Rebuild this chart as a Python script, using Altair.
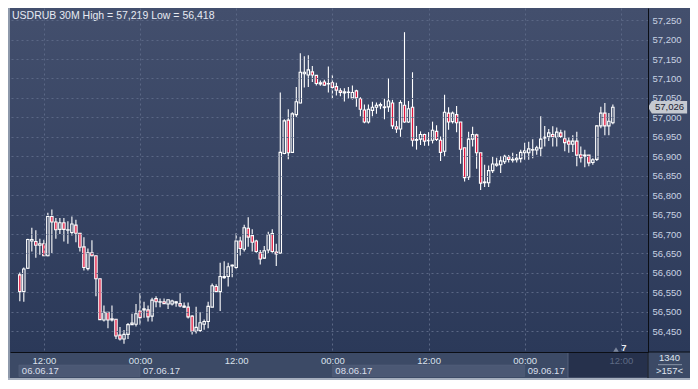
import altair as alt
import pandas as pd

# ---------------- data (USDRUB, 30-minute candles) ----------------
opens = [56.595, 56.552, 56.612, 56.682, 56.681, 56.671, 56.675, 56.644, 56.745, 56.731,
         56.712, 56.729, 56.710, 56.704, 56.723, 56.702, 56.667, 56.611, 56.652, 56.644,
         56.585, 56.479, 56.499, 56.482, 56.481, 56.440, 56.430, 56.442, 56.467, 56.468,
         56.502, 56.505, 56.505, 56.489, 56.534, 56.525, 56.526, 56.520, 56.520, 56.523,
         56.521, 56.515, 56.512, 56.489, 56.450, 56.452, 56.468, 56.475, 56.512, 56.565,
         56.552, 56.588, 56.591, 56.618, 56.614, 56.682, 56.661, 56.715, 56.696, 56.682,
         56.652, 56.638, 56.659, 56.701, 56.654, 56.651, 56.907, 56.993, 56.910, 57.007,
         57.037, 57.112, 57.109, 57.117, 57.108, 57.086, 57.091, 57.086, 57.089, 57.079,
         57.068, 57.063, 57.065, 57.050, 57.068, 57.048, 57.019, 56.988, 57.018, 57.026,
         57.030, 57.027, 57.027, 57.037, 56.976, 56.970, 57.031, 56.988, 57.026, 56.941,
         56.944, 56.956, 56.941, 56.941, 56.964, 56.941, 56.913, 57.011, 56.989, 57.007,
         56.988, 56.922, 56.847, 56.944, 56.955, 56.909, 56.834, 56.832, 56.863, 56.877,
         56.878, 56.886, 56.898, 56.890, 56.891, 56.894, 56.909, 56.909, 56.916, 56.916,
         56.921, 56.947, 56.950, 56.956, 56.949, 56.960, 56.945, 56.939, 56.931, 56.939,
         56.904, 56.900, 56.903, 56.884, 56.892, 56.978, 57.011, 56.978, 56.986]
highs = [56.601, 56.614, 56.688, 56.716, 56.710, 56.688, 56.685, 56.755, 56.763, 56.741,
         56.741, 56.741, 56.733, 56.745, 56.737, 56.702, 56.692, 56.663, 56.684, 56.644,
         56.585, 56.516, 56.499, 56.516, 56.481, 56.461, 56.453, 56.471, 56.495, 56.520,
         56.548, 56.526, 56.516, 56.536, 56.540, 56.534, 56.534, 56.531, 56.531, 56.528,
         56.548, 56.524, 56.524, 56.491, 56.513, 56.499, 56.480, 56.526, 56.573, 56.571,
         56.626, 56.630, 56.626, 56.622, 56.702, 56.693, 56.724, 56.743, 56.712, 56.685,
         56.659, 56.669, 56.706, 56.712, 56.675, 57.064, 56.995, 57.021, 57.013, 57.078,
         57.165, 57.157, 57.160, 57.132, 57.109, 57.095, 57.097, 57.131, 57.109, 57.089,
         57.075, 57.075, 57.078, 57.082, 57.071, 57.052, 57.033, 57.033, 57.040, 57.038,
         57.038, 57.048, 57.101, 57.045, 56.991, 57.044, 57.219, 57.042, 57.116, 56.978,
         56.964, 56.958, 56.962, 56.989, 56.980, 56.951, 57.058, 57.026, 57.015, 57.029,
         56.988, 56.922, 56.963, 56.976, 56.958, 56.909, 56.878, 56.876, 56.898, 56.896,
         56.900, 56.904, 56.903, 56.909, 56.906, 56.917, 56.935, 56.937, 56.944, 56.927,
         57.003, 56.978, 56.970, 56.977, 56.974, 56.968, 56.966, 56.949, 56.954, 56.963,
         56.925, 56.917, 56.903, 56.895, 56.980, 57.027, 57.037, 57.011, 57.033]
lows = [56.527, 56.526, 56.610, 56.655, 56.639, 56.647, 56.644, 56.643, 56.651, 56.688,
        56.700, 56.681, 56.675, 56.696, 56.679, 56.655, 56.606, 56.606, 56.643, 56.540,
        56.479, 56.475, 56.458, 56.475, 56.430, 56.426, 56.418, 56.430, 56.467, 56.462,
        56.467, 56.485, 56.475, 56.475, 56.512, 56.512, 56.520, 56.507, 56.516, 56.513,
        56.512, 56.510, 56.483, 56.442, 56.444, 56.448, 56.454, 56.458, 56.512, 56.551,
        56.502, 56.585, 56.565, 56.589, 56.610, 56.645, 56.655, 56.667, 56.655, 56.652,
        56.622, 56.636, 56.651, 56.652, 56.618, 56.651, 56.905, 56.892, 56.909, 57.001,
        57.036, 57.077, 57.078, 57.091, 57.082, 57.081, 57.081, 57.064, 57.048, 57.056,
        57.054, 57.041, 57.048, 57.046, 57.027, 57.003, 56.985, 56.984, 57.003, 57.009,
        57.021, 56.995, 57.014, 56.970, 56.960, 56.950, 56.986, 56.986, 56.925, 56.917,
        56.929, 56.927, 56.927, 56.933, 56.939, 56.888, 56.900, 56.968, 56.984, 56.962,
        56.881, 56.835, 56.839, 56.925, 56.868, 56.813, 56.821, 56.821, 56.857, 56.873,
        56.857, 56.880, 56.884, 56.884, 56.884, 56.884, 56.891, 56.891, 56.895, 56.904,
        56.900, 56.925, 56.939, 56.925, 56.925, 56.947, 56.913, 56.909, 56.911, 56.874,
        56.884, 56.872, 56.874, 56.878, 56.888, 56.972, 56.954, 56.954, 56.982]
closes = [56.552, 56.610, 56.686, 56.686, 56.671, 56.675, 56.644, 56.745, 56.731, 56.711,
          56.729, 56.712, 56.711, 56.726, 56.702, 56.666, 56.614, 56.652, 56.644, 56.585,
          56.480, 56.499, 56.479, 56.479, 56.438, 56.430, 56.442, 56.467, 56.471, 56.495,
          56.485, 56.508, 56.487, 56.530, 56.526, 56.526, 56.521, 56.531, 56.528, 56.526,
          56.515, 56.512, 56.487, 56.450, 56.460, 56.472, 56.475, 56.514, 56.567, 56.552,
          56.591, 56.591, 56.616, 56.620, 56.682, 56.663, 56.716, 56.692, 56.679, 56.655,
          56.636, 56.657, 56.698, 56.655, 56.649, 56.910, 56.991, 56.909, 57.009, 57.040,
          57.116, 57.116, 57.122, 57.109, 57.087, 57.089, 57.083, 57.087, 57.077, 57.070,
          57.064, 57.066, 57.064, 57.064, 57.050, 57.021, 56.988, 57.021, 57.026, 57.031,
          57.033, 57.025, 57.042, 56.978, 56.970, 57.038, 56.988, 57.022, 56.941, 56.943,
          56.956, 56.939, 56.940, 56.967, 56.943, 56.910, 57.013, 56.988, 57.011, 56.986,
          56.918, 56.845, 56.944, 56.956, 56.909, 56.831, 56.832, 56.863, 56.880, 56.880,
          56.888, 56.900, 56.892, 56.892, 56.895, 56.910, 56.914, 56.919, 56.917, 56.922,
          56.944, 56.949, 56.960, 56.950, 56.962, 56.951, 56.935, 56.931, 56.939, 56.903,
          56.896, 56.903, 56.883, 56.891, 56.978, 57.011, 56.978, 56.990, 57.026]
first_bar = "2017-06-06 09:00"

y_ticks = [56.45, 56.50, 56.55, 56.60, 56.65, 56.70, 56.75, 56.80, 56.85,
           56.90, 56.95, 57.00, 57.05, 57.10, 57.15, 57.20, 57.25]
x_tick_times = ["2017-06-06 12:00", "2017-06-07 00:00", "2017-06-07 12:00", "2017-06-08 00:00",
                "2017-06-08 12:00", "2017-06-09 00:00", "2017-06-09 12:00"]
day_labels = ["06.06.17", "07.06.17", "08.06.17", "09.06.17"]
day_label_at = ["2017-06-06 08:53", "2017-06-07 00:00", "2017-06-08 00:00", "2017-06-09 00:00"]
box_start = ["2017-06-06 08:53", "2017-06-08 00:00"]
box_end = ["2017-06-07 00:00", "2017-06-09 00:00"]
future_start = "2017-06-09 05:24"
x_range = ["2017-06-06 08:24:00", "2017-06-09 14:45:36"]
y_range = [56.3967, 57.2812]
symbol = "USDRUB 30M"
bars_back = "1340"
bars_shown = ">157<"
marker_label = "7"

# ---------------- helpers ----------------
def iso(s):
    return pd.Timestamp(s).strftime("%Y-%m-%dT%H:%M:%S")

def dt(s):
    t = pd.Timestamp(s)
    return alt.DateTime(year=t.year, month=t.month, date=t.day,
                        hours=t.hour, minutes=t.minute, seconds=t.second)

def fmt(v):
    return f"{v:.3f}".replace(".", ",")

W, H = 638, 344
FONT = "Liberation Sans"
RED = "#e1143c"
GRID = "#5a6785"

times = pd.date_range(first_bar, periods=len(opens), freq="30min")
df = pd.DataFrame({
    "time": times.strftime("%Y-%m-%dT%H:%M:%S"),
    "open": opens, "high": highs, "low": lows, "close": closes,
})

xscale = alt.Scale(domain=[dt(x_range[0]), dt(x_range[1])])
yscale = alt.Scale(domain=y_range, zero=False, nice=False)

x_axis = alt.Axis(
    orient="bottom", values=[dt(t) for t in x_tick_times], tickCount=len(x_tick_times),
    format="%H:%M",
    grid=True, gridDash=[2, 3], gridColor=GRID, gridWidth=1,
    ticks=False, domain=True, domainColor="#0b0e15", domainWidth=1,
    labelFont=FONT, labelFontSize=9.5, labelPadding=3,
    labelColor={"condition": {"test": "datum.value > datetime(2017, 5, 9, 6, 0)", "value": "#5e6a84"},
                "value": "#dbe1ec"},
    labelFlush=False, labelOverlap=False, title=None, zindex=1)
y_axis = alt.Axis(
    orient="right", values=y_ticks, tickCount=len(y_ticks),
    labelExpr="replace(format(datum.value, '.3f'), '.', ',')",
    grid=True, gridDash=[2, 3], gridColor=GRID, gridWidth=1,
    ticks=False, domain=True, domainColor="#0b0e15", domainWidth=1,
    labelFont=FONT, labelFontSize=9.5, labelPadding=4, labelColor="#c8d1e2",
    labelFlush=False, labelOverlap=False, title=None, zindex=1)

one = pd.DataFrame({"k": [0]})

# background gradient of plot + price panel
bg = alt.Chart(one).mark_rect(
    fill=alt.Gradient(gradient="linear",
                      stops=[alt.GradientStop(color="#434f6d", offset=0),
                             alt.GradientStop(color="#2b3959", offset=1)],
                      x1=0, x2=0, y1=0, y2=1)
).encode(x=alt.value(0), x2=alt.value(680), y=alt.value(0), y2=alt.value(H))

base = alt.Chart(df).transform_calculate(
    btop="max(datum.open, datum.close)", bbot="min(datum.open, datum.close)")

X = alt.X("time:T", scale=xscale, axis=x_axis)

upper = base.mark_rule(color="white", strokeWidth=1.1, clip=True).encode(
    x=X, y=alt.Y("high:Q", scale=yscale, axis=y_axis), y2="btop:Q")
lower = base.mark_rule(color="white", strokeWidth=1.1, clip=True).encode(
    x=X, y=alt.Y("bbot:Q", scale=yscale, axis=y_axis), y2="low:Q")
bodies = base.mark_bar(width=2.4, stroke="white", strokeWidth=1.1, clip=True).encode(
    x=X, y=alt.Y("open:Q", scale=yscale, axis=y_axis), y2="close:Q",
    fill=alt.condition("datum.close < datum.open", alt.value(RED), alt.value("transparent")))

# bottom strip decorations
boxes_df = pd.DataFrame({"s": [iso(s) for s in box_start], "e": [iso(e) for e in box_end]})
boxes = alt.Chart(boxes_df).mark_rect(fill="#4b5874", stroke="#56637d", strokeWidth=0.5).encode(
    x=alt.X("s:T", scale=xscale, axis=x_axis), x2="e:T", y=alt.value(357), y2=alt.value(368.5))

future_df = pd.DataFrame({"s": [iso(future_start)]})
future = alt.Chart(future_df).mark_rect(fill="#26314c", stroke="#56627b", strokeWidth=1).encode(
    x=alt.X("s:T", scale=xscale, axis=x_axis), x2=alt.value(W), y=alt.value(H + 0.5), y2=alt.value(370))

days_df = pd.DataFrame({"t": [iso(s) for s in day_label_at], "label": day_labels})
days = alt.Chart(days_df).mark_text(
    align="left", baseline="middle", dx=3, font=FONT, fontSize=9.5, color="#d9dfea"
).encode(x=alt.X("t:T", scale=xscale, axis=x_axis), y=alt.value(362.5), text="label:N")

left_border = alt.Chart(one).mark_rect(fill="#8e99ab").encode(
    x=alt.value(-2), x2=alt.value(0), y=alt.value(0), y2=alt.value(372))
bottom_border = alt.Chart(one).mark_rect(fill="#a6afbe").encode(
    x=alt.value(-2), x2=alt.value(682), y=alt.value(370), y2=alt.value(372))
vline = alt.Chart(one).mark_rule(color="#0b0e15", strokeWidth=1).encode(
    x=alt.value(W), y=alt.value(H), y2=alt.value(370))
hline = alt.Chart(one).mark_rule(color="#0b0e15", strokeWidth=1).encode(
    x=alt.value(W), x2=alt.value(680), y=alt.value(H))

# title
title_df = pd.DataFrame({"label": [f"{symbol}  High = {fmt(max(highs))} Low = {fmt(min(lows))}"]})
title = alt.Chart(title_df).mark_text(
    align="left", baseline="middle", font=FONT, fontSize=10.5, color="#e6eaf2"
).encode(x=alt.value(2), y=alt.value(7.6), text="label:N")

# current price marker on the price scale
last_df = pd.DataFrame({"price": [closes[-1]], "label": [fmt(closes[-1])]})
tag = alt.Chart(last_df).mark_point(
    shape="M-1.22,0L-1,-0.36L1,-0.36L1,0.36L-1,0.36Z", filled=True, opacity=1,
    fill="#c5c9d0", strokeWidth=0, size=1240
).encode(x=alt.value(659.5), y=alt.Y("price:Q", scale=yscale, axis=y_axis))
tag_text = alt.Chart(last_df).mark_text(
    align="center", baseline="middle", font=FONT, fontSize=9.5, color="#1b2131"
).encode(x=alt.value(659.5), y=alt.Y("price:Q", scale=yscale, axis=y_axis), text="label:N")

# small marker "7" near the bottom right
mark7 = alt.Chart(pd.DataFrame({"label": [marker_label]})).mark_text(
    align="center", baseline="middle", font=FONT, fontSize=9.5, color="#e8ecf3", fontWeight="bold"
).encode(x=alt.value(614), y=alt.value(340), text="label:N")
tri = alt.Chart(one).mark_point(shape="triangle-up", filled=True, fill="#7b869c", opacity=1,
                                strokeWidth=0, size=30).encode(x=alt.value(606), y=alt.value(341.5))

# bar counters in the bottom-right corner
count1 = alt.Chart(pd.DataFrame({"label": [bars_back]})).mark_text(
    align="center", baseline="middle", font=FONT, fontSize=9.5, color="#dfe4ee"
).encode(x=alt.value(659.5), y=alt.value(350.3), text="label:N")
count2 = alt.Chart(pd.DataFrame({"label": [bars_shown]})).mark_text(
    align="center", baseline="middle", font=FONT, fontSize=9.5, color="#dfe4ee"
).encode(x=alt.value(659.5), y=alt.value(362.5), text="label:N")
sep = alt.Chart(one).mark_rule(color="#8b95a8", strokeWidth=1).encode(
    x=alt.value(648), x2=alt.value(672), y=alt.value(356.7))

chart = alt.layer(
    bg, upper, lower, bodies, boxes, future, days, left_border, bottom_border,
    vline, hline, title, tag, tag_text, mark7, tri, count1, count2, sep
).properties(
    width=W, height=H,
    padding={"left": 2, "top": 0, "right": 42, "bottom": 28},
    autosize=alt.AutoSizeParams(type="none"),
    background="#3c4a66",
).configure_view(stroke=None)

chart.save("out.html", embed_options={"renderer": "svg", "actions": False})
